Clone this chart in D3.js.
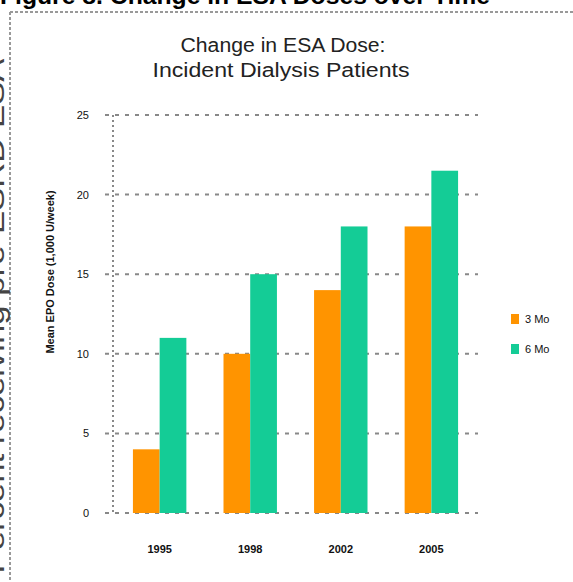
<!DOCTYPE html>
<html><head><meta charset="utf-8">
<script src="https://cdn.jsdelivr.net/npm/d3@7"></script>
<style>html,body{margin:0;padding:0;background:#fff;}svg{display:block;}</style>
</head><body>
<svg id="c" width="573" height="582"></svg>
<script>
const years = ["1995", "1998", "2002", "2005"];
const seriesNames = ["3 Mo", "6 Mo"];
const series3Mo = [4, 10, 14, 18];
const series6Mo = [11, 15, 18, 21.5];
const yTicks = [0, 5, 10, 15, 20, 25];
const colors = ["#FF9400", "#14CC96"];

const svg = d3.select("#c");
const font = "Arial, 'Liberation Sans', sans-serif";

// page header (cut off at top)
svg.append("text").attr("x", 0).attr("y", 4)
  .attr("font-family", font).attr("font-weight", "bold").attr("font-size", 23)
  .attr("fill", "#000").attr("textLength", 490).attr("lengthAdjust", "spacingAndGlyphs")
  .text("Figure 8. Change in ESA Doses over Time");

// outer dashed border
svg.append("line").attr("x1", 10).attr("x2", 573).attr("y1", 12).attr("y2", 12)
  .attr("stroke", "#999").attr("stroke-width", 2).attr("stroke-dasharray", "3,2");
svg.append("line").attr("x1", 10).attr("x2", 10).attr("y1", 12).attr("y2", 582)
  .attr("stroke", "#999").attr("stroke-width", 2).attr("stroke-dasharray", "3,2");

// left vertical page text (cut off)
svg.append("text")
  .attr("transform", "translate(4,316) rotate(-90)")
  .attr("text-anchor", "middle").attr("font-family", font).attr("font-size", 27)
  .attr("fill", "#444").attr("textLength", 515).attr("lengthAdjust", "spacingAndGlyphs")
  .text("Percent receiving pre-ESRD ESA");

// chart title
svg.append("text").attr("x", 283).attr("y", 52).attr("text-anchor", "middle")
  .attr("font-family", font).attr("font-size", 19.5).attr("fill", "#222")
  .attr("textLength", 205).attr("lengthAdjust", "spacingAndGlyphs")
  .text("Change in ESA Dose:");
svg.append("text").attr("x", 281).attr("y", 77).attr("text-anchor", "middle")
  .attr("font-family", font).attr("font-size", 19.5).attr("fill", "#222")
  .attr("textLength", 257).attr("lengthAdjust", "spacingAndGlyphs")
  .text("Incident Dialysis Patients");

const x0 = 113, x1 = 478, yTop = 115, yBot = 513;
const y = d3.scaleLinear().domain([0, 25]).range([yBot, yTop]);
const x = d3.scaleBand().domain(years).range([x0, x1]).paddingInner(0.41).paddingOuter(0.22);
const xs = d3.scaleBand().domain(seriesNames).range([0, x.bandwidth()]).padding(0);

// gridlines
svg.append("g").selectAll("line").data(yTicks).join("line")
  .attr("x1", x0 - 8).attr("x2", x1).attr("y1", d => y(d)).attr("y2", d => y(d))
  .attr("stroke", "#888").attr("stroke-width", 2).attr("stroke-dasharray", "4,6");

// y axis dotted line
svg.append("line").attr("x1", x0).attr("x2", x0).attr("y1", yTop).attr("y2", yBot)
  .attr("stroke", "#888").attr("stroke-width", 2).attr("stroke-dasharray", "2,3");

// y axis tick labels via d3 axis
const yAxis = svg.append("g").attr("transform", `translate(${x0 - 24},0)`)
  .call(d3.axisLeft(y).tickValues(yTicks).tickSize(0).tickPadding(0).tickFormat(d3.format("d")));
yAxis.select(".domain").remove();
yAxis.selectAll("text").attr("font-family", font).attr("font-size", 11).attr("fill", "#111");

// y label
svg.append("text").attr("transform", "translate(54,272) rotate(-90)")
  .attr("text-anchor", "middle").attr("font-family", font).attr("font-size", 11)
  .attr("font-weight", "bold").attr("fill", "#111")
  .text("Mean EPO Dose (1,000 U/week)");

// bars
const data = years.map((yr, i) => ({ yr, vals: [series3Mo[i], series6Mo[i]] }));
const groups = svg.append("g").selectAll("g").data(data).join("g")
  .attr("transform", d => `translate(${x(d.yr)},0)`);
groups.selectAll("rect").data(d => d.vals.map((v, j) => ({ v, s: seriesNames[j], j })))
  .join("rect")
  .attr("x", d => xs(d.s)).attr("width", xs.bandwidth())
  .attr("y", d => y(d.v)).attr("height", d => yBot - y(d.v))
  .attr("fill", d => colors[d.j]);

// x axis labels
const xAxis = svg.append("g").attr("transform", `translate(0,${yBot + 32})`)
  .call(d3.axisBottom(x).tickSize(0).tickPadding(0));
xAxis.select(".domain").remove();
xAxis.selectAll("text").attr("font-family", font).attr("font-size", 11)
  .attr("font-weight", "bold").attr("fill", "#111");

// legend
const leg = svg.append("g").selectAll("g").data(seriesNames).join("g")
  .attr("transform", (d, i) => `translate(511,${314 + i * 30})`);
leg.append("rect").attr("width", 8).attr("height", 10).attr("fill", (d, i) => colors[i]);
leg.append("text").attr("x", 14).attr("y", 9).attr("font-family", font)
  .attr("font-size", 11).attr("fill", "#111").text(d => d);
</script>
</body></html>
